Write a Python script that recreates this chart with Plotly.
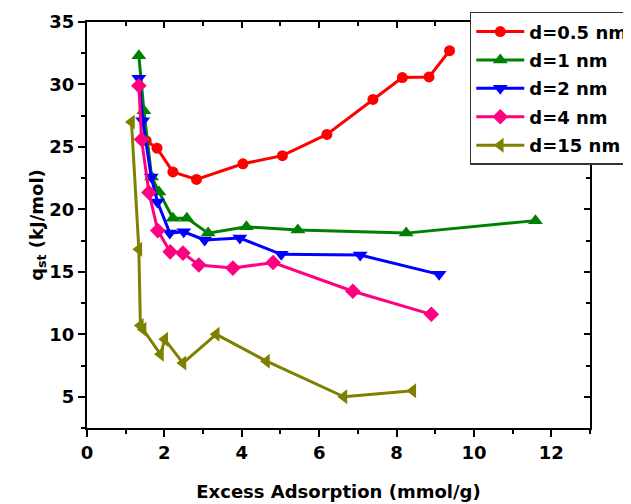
import plotly.graph_objects as go

names = ["d=0.5 nm", "d=1 nm", "d=2 nm", "d=4 nm", "d=15 nm"]
colors = ["#FF0000", "#008000", "#0000FF", "#FF0080", "#808000"]
symbols = ["circle", "triangle-up", "triangle-down", "diamond", "triangle-left"]

x_05 = [1.53, 1.81, 2.22, 2.83, 4.03, 5.05, 6.20, 7.39, 8.15, 8.84, 9.37]
y_05 = [25.5, 24.9, 23.0, 22.4, 23.65, 24.3, 26.0, 28.8, 30.55, 30.6, 32.7]

x_1 = [1.34, 1.47, 1.67, 1.86, 2.22, 2.58, 3.13, 4.12, 5.45, 8.25, 11.59]
y_1 = [32.3, 27.9, 22.6, 21.4, 19.3, 19.3, 18.1, 18.6, 18.35, 18.1, 19.1]

x_2 = [1.34, 1.44, 1.66, 1.82, 2.14, 2.50, 3.04, 3.95, 5.02, 7.06, 9.10]
y_2 = [30.5, 27.1, 22.6, 20.6, 18.1, 18.2, 17.55, 17.7, 16.4, 16.35, 14.8]

x_4 = [1.34, 1.41, 1.60, 1.83, 2.15, 2.48, 2.89, 3.77, 4.81, 6.87, 8.90]
y_4 = [29.9, 25.6, 21.35, 18.3, 16.6, 16.5, 15.55, 15.3, 15.75, 13.45, 11.6]

x_15 = [1.15, 1.34, 1.38, 1.45, 1.90, 2.01, 2.48, 3.34, 4.64, 6.64, 8.42]
y_15 = [27.0, 16.8, 10.7, 10.4, 8.4, 9.6, 7.7, 10.0, 7.85, 5.0, 5.48]

xs = [x_05, x_1, x_2, x_4, x_15]
ys = [y_05, y_1, y_2, y_4, y_15]
msizes = [11, 13, 13, 12, 13]

x_range = [0, 13]
y_range = [2.5, 35]
x_ticks = [0, 2, 4, 6, 8, 10, 12]
y_ticks = [5, 10, 15, 20, 25, 30, 35]

FONT = "DejaVu Sans"

fig = go.Figure()
for n, c, s, x, y, ms in zip(names, colors, symbols, xs, ys, msizes):
    fig.add_trace(go.Scatter(
        x=x, y=y, name=n, mode="lines+markers", legendgroup=n,
        line=dict(color=c, width=3),
        marker=dict(symbol=s, size=ms, color=c),
    ))

axis_common = dict(
    showgrid=False, zeroline=False, automargin=False,
    linecolor="black", linewidth=2,
    ticks="outside", ticklen=7, tickwidth=1.5, tickcolor="black",
    tickfont=dict(family=FONT, size=18, color="black", weight="bold"),
)

fig.update_layout(
    width=631, height=504,
    margin=dict(l=79, r=49, t=14, b=84, autoexpand=False),
    paper_bgcolor="white", plot_bgcolor="white",
    font=dict(family=FONT, color="black"),
    xaxis=dict(
        range=x_range, tickvals=x_ticks, mirror=True,
        minor=dict(dtick=1, ticks="outside", ticklen=4, tickwidth=1.5, tickcolor="black"),
        title=dict(text="Excess Adsorption (mmol/g)",
                   font=dict(family=FONT, size=18, weight="bold"), standoff=24),
        **axis_common,
    ),
    yaxis=dict(
        range=y_range, tickvals=y_ticks, mirror=True,
        minor=dict(dtick=2.5, tick0=0, ticks="outside", ticklen=4, tickwidth=1.5, tickcolor="black"),
        title=dict(text="q<sub>st</sub> (kJ/mol)",
                   font=dict(family=FONT, size=18, weight="bold"), standoff=0),
        **axis_common,
    ),
    xaxis2=dict(
        overlaying="x", side="top", range=x_range, tickvals=x_ticks, automargin=False,
        showticklabels=False, showgrid=False, zeroline=False, showline=False,
        ticks="inside", ticklen=6, tickwidth=1.5, tickcolor="black",
        minor=dict(dtick=1, ticks="inside", ticklen=4, tickwidth=1.5, tickcolor="black"),
    ),
    yaxis2=dict(
        overlaying="y", side="right", range=y_range, tickvals=y_ticks, automargin=False,
        showticklabels=False, showgrid=False, zeroline=False, showline=False,
        ticks="inside", ticklen=6, tickwidth=1.5, tickcolor="black",
        minor=dict(dtick=2.5, tick0=0, ticks="inside", ticklen=4, tickwidth=1.5, tickcolor="black"),
    ),
    legend=dict(
        x=0.761, y=1.025, xanchor="left", yanchor="top",
        bgcolor="white", bordercolor="#333333", borderwidth=1.5,
        font=dict(family=FONT, size=18, color="black", weight="bold"),
        tracegroupgap=2, itemwidth=48,
    ),
    showlegend=True,
)

# invisible trace to activate the mirrored tick axes
fig.add_trace(go.Scatter(x=[None], y=[None], xaxis="x2", yaxis="y2",
                         showlegend=False, hoverinfo="skip"))

fig.write_html("out.html")
